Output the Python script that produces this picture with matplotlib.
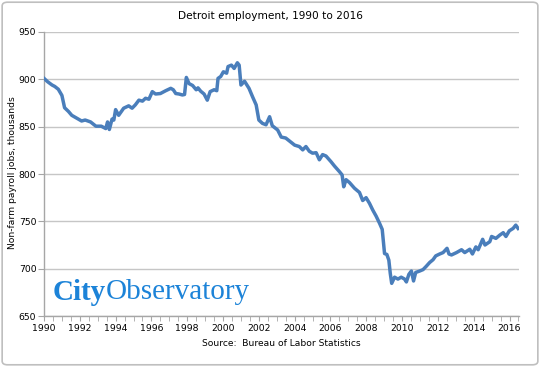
import matplotlib
matplotlib.use("Agg")
import matplotlib.pyplot as plt
from matplotlib.patches import FancyBboxPatch
from matplotlib.ticker import MultipleLocator
import numpy as np

years = [1990.0, 1990.2, 1990.45, 1990.6, 1990.8, 1991.0, 1991.15, 1991.37, 1991.55, 1991.83,
         1992.1, 1992.3, 1992.6, 1992.9, 1993.2, 1993.45, 1993.55, 1993.65, 1993.8, 1993.9,
         1994.0, 1994.17, 1994.45, 1994.73, 1994.92, 1995.1, 1995.3, 1995.5, 1995.67, 1995.86,
         1996.05, 1996.23, 1996.5, 1996.8, 1997.08, 1997.22, 1997.36, 1997.54, 1997.73, 1997.85,
         1997.95, 1998.1, 1998.3, 1998.5, 1998.6, 1998.75, 1998.94, 1999.12, 1999.28, 1999.5,
         1999.65, 1999.72, 1999.87, 2000.02, 2000.2, 2000.28, 2000.47, 2000.62, 2000.8, 2000.9,
         2001.0, 2001.2, 2001.45, 2001.65, 2001.85, 2002.0, 2002.2, 2002.4, 2002.6, 2002.75,
         2003.05, 2003.25, 2003.5, 2003.7, 2004.0, 2004.26, 2004.45, 2004.63, 2004.82, 2005.0,
         2005.2, 2005.38, 2005.56, 2005.75, 2006.03, 2006.22, 2006.5, 2006.65, 2006.74, 2006.87,
         2007.06, 2007.34, 2007.62, 2007.8, 2007.99, 2008.18, 2008.36, 2008.55, 2008.74, 2008.89,
         2009.02, 2009.15, 2009.26, 2009.34, 2009.42, 2009.58, 2009.77, 2009.95, 2010.14, 2010.24,
         2010.38, 2010.52, 2010.64, 2010.76, 2010.98, 2011.17, 2011.35, 2011.54, 2011.73, 2011.88,
         2012.1, 2012.29, 2012.51, 2012.62, 2012.76, 2013.04, 2013.32, 2013.5, 2013.78, 2013.93,
         2014.12, 2014.25, 2014.5, 2014.63, 2014.9, 2015.0, 2015.24, 2015.46, 2015.65, 2015.8,
         2015.99, 2016.2, 2016.35, 2016.48]

jobs = [901, 897.5, 894, 892.5, 889.5, 883, 870, 866, 862, 859,
        856, 857, 855, 850.5, 850.5, 848, 855, 847, 858, 857,
        868, 862, 869.5, 872, 869.5, 873, 878, 877, 880, 879,
        887, 884.5, 885, 888, 890.5, 889, 885, 884.5, 883.5, 884,
        902, 895.5, 893.5, 889, 891, 887.5, 884.5, 878, 887, 889,
        888, 901, 903, 908, 906.5, 913.5, 915, 911.5, 917.5, 915,
        894, 898, 890.5, 881.5, 873, 857, 853.5, 852, 860.5, 851,
        846.5, 839, 838, 835, 830.5, 829, 825.5, 829, 824, 822,
        822.5, 815, 820.5, 819, 813, 808.5, 802.5, 799, 786.5, 794,
        791, 785, 780.5, 772, 775, 769, 762, 755.5, 748, 741.5,
        716, 715, 709, 695, 684.5, 691, 689, 691, 689, 686,
        694, 697.5, 687, 696, 697.5, 699, 702.5, 706.5, 709.5, 713.5,
        715.5, 717, 721.5, 715.5, 714.5, 717, 720, 717, 720.5, 715.5,
        723, 720, 731, 725, 728.5, 734, 732, 735.5, 738, 734,
        740, 742.5, 746, 742.5]

y_ticks = [650, 700, 750, 800, 850, 900, 950]
x_ticks = list(range(1990, 2017, 2))

title = "Detroit employment, 1990 to 2016"
ylabel = "Non-farm payroll jobs, thousands"
source = "Source:  Bureau of Labor Statistics"

fig = plt.figure(figsize=(5.4, 3.67), dpi=100)
fig.patch.set_facecolor("white")
border = FancyBboxPatch((0.004, 0.006), 0.992, 0.988, boxstyle="round,pad=0,rounding_size=0.01",
                        transform=fig.transFigure, fill=False, edgecolor="#bfbfbf", linewidth=1.2)
fig.patches.append(border)

ax = fig.add_axes([44/540, 51/367, 475/540, 284/367])
ax.plot(years, jobs, color="#4a7ebb", linewidth=2.5, solid_joinstyle="round", zorder=3)

ax.set_xlim(1990, 2016.53)
ax.set_ylim(650, 950)
ax.set_yticks(y_ticks)
ax.set_xticks(x_ticks)
ax.xaxis.set_minor_locator(MultipleLocator(0.5))
ax.grid(axis="y", color="#c6c6c6", linewidth=1.0)
ax.set_axisbelow(True)
for s in ["top", "right"]:
    ax.spines[s].set_visible(False)
for s in ["left", "bottom"]:
    ax.spines[s].set_color("#a6a6a6")
    ax.spines[s].set_linewidth(1.0)
ax.tick_params(axis="both", which="both", colors="#a6a6a6", direction="out", labelcolor="black",
               labelsize=6.7)
ax.tick_params(axis="x", which="major", length=3.5, pad=2)
ax.tick_params(axis="x", which="minor", length=3.5)
ax.tick_params(axis="y", which="major", length=4, pad=1.5)

fig.text(13/540, 1 - 173/367, ylabel, ha="center", va="center", rotation=90, fontsize=6.6)
fig.text(270/540, 1 - 16/367, title, ha="center", va="center", fontsize=7.6)
fig.text(281/540, 1 - 343/367, source, ha="center", va="center", fontsize=6.6)

fig.text(53/540, 1 - 292/367, "City", ha="left", va="center", fontsize=21, color="#1c83d8",
         family="Liberation Serif", fontweight="bold")
fig.text(106/540, 1 - 292/367, "Observatory", ha="left", va="center", fontsize=21, color="#1c83d8",
         family="Liberation Serif")

fig.savefig("out.png", dpi=100, facecolor="white")
